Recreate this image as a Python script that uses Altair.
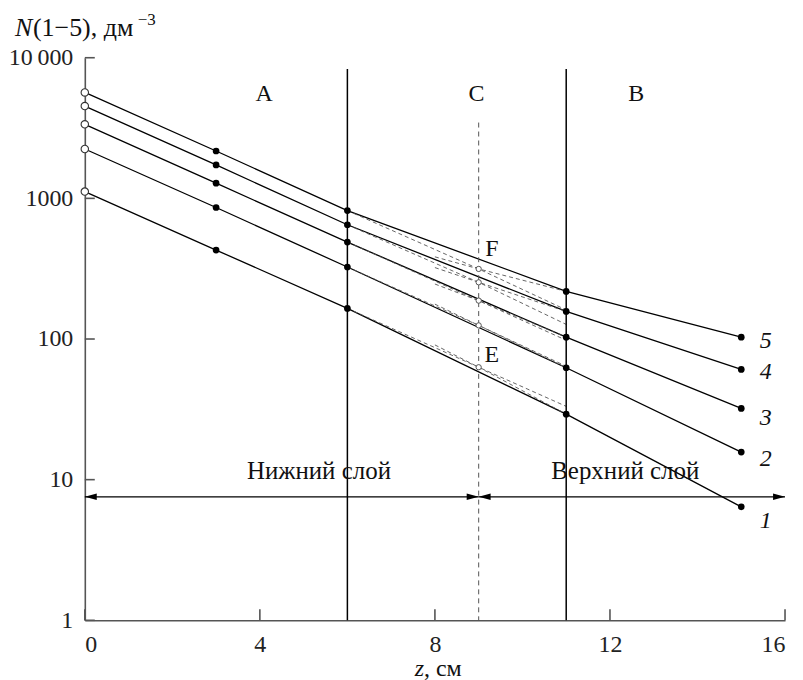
import altair as alt
import pandas as pd

# ---------------- data ----------------
series = ["1", "2", "3", "4", "5"]
z_points = [0, 3, 6, 11, 15]
N1 = [1117, 429, 165, 29.2, 6.41]
N2 = [2244, 861, 325, 62.5, 15.7]
N3 = [3360, 1282, 489, 103, 32.1]
N4 = [4530, 1729, 649, 157, 60.8]
N5 = [5665, 2172, 819, 218, 103]

# open circles at the layer boundary z = 9 (lines 1..5)
z_boundary = 9
N_boundary = [63, 125, 187.5, 253, 315]
# dashed extrapolations: lower-layer trend to z = 11, upper-layer trend back to z = 8
z_lower_end = 11
N_lower_end = [33.2, 64, 98, 127, 161]
z_upper_end = 8
N_upper_end = [90.8, 177, 246, 322, 384]

layer_lines_z = [6, 11]
layer_lines_top = 8300
boundary_top = 3460

region_labels = ["A", "C", "B"]
region_z = [4.1, 8.95, 12.6]
region_N = [5560, 5560, 5560]

point_labels = ["F", "E"]
point_label_z = [9.3, 9.3]
point_label_N = [435, 77]

arrow_N = 7.55
arrow_segments = [(0, 9), (9, 16)]
layer_names = ["Нижний слой", "Верхний слой"]
layer_name_z = [5.35, 12.35]
layer_name_N = [11.5, 11.5]

curve_label_z = 15.56
curve_label_N = [5.08, 14, 27.6, 57.8, 96]

y_ticks = [1, 10, 100, 1000, 10000]
x_ticks = [0, 4, 8, 12, 16]

# ---------------- tables ----------------
all_N = [N1, N2, N3, N4, N5]
rows = []
for s, vals in zip(series, all_N):
    for z, n in zip(z_points, vals):
        rows.append({"z": z, "N": n, "s": s})
solid_df = pd.DataFrame(rows)
open0_df = solid_df[solid_df["z"] == 0]
filled_df = solid_df[solid_df["z"] > 0]

dash_rows = []
for i, s in enumerate(series):
    dash_rows += [
        {"z": 6, "N": all_N[i][2], "g": "lo" + s},
        {"z": z_boundary, "N": N_boundary[i], "g": "lo" + s},
        {"z": z_lower_end, "N": N_lower_end[i], "g": "lo" + s},
        {"z": z_upper_end, "N": N_upper_end[i], "g": "up" + s},
        {"z": z_boundary, "N": N_boundary[i], "g": "up" + s},
        {"z": 11, "N": all_N[i][3], "g": "up" + s},
    ]
dash_df = pd.DataFrame(dash_rows)
bnd_df = pd.DataFrame({"z": [z_boundary] * 5, "N": N_boundary})

FONT = "Liberation Serif"
AX = "#555555"

xs = alt.Scale(domain=[0, 16], nice=False, zero=False)
ys = alt.Scale(type="log", domain=[1, 10000], nice=False)

x_axis = alt.Axis(values=x_ticks, ticks=False, grid=False, title=None,
                  labelFont=FONT, labelFontSize=24, labelColor="#222",
                  labelPadding=12, domainColor=AX, domainWidth=1.6)
y_axis = alt.Axis(values=y_ticks, ticks=False, grid=False, title=None,
                  labelFont=FONT, labelFontSize=24, labelColor="#222",
                  labelPadding=12, domainColor=AX, domainWidth=1.6,
                  labelExpr="datum.value == 10000 ? '10\u2009000' : format(datum.value, 'd')")


def X(field="z:Q"):
    return alt.X(field, scale=xs, axis=x_axis)


def Y(field="N:Q"):
    return alt.Y(field, scale=ys, axis=y_axis)


solid = alt.Chart(solid_df).mark_line(color="black", strokeWidth=1.3).encode(
    x=X(), y=Y(), detail="s:N")

dashed = alt.Chart(dash_df).mark_line(color="#555", strokeWidth=0.9,
                                      strokeDash=[4, 3]).encode(
    x=X(), y=Y(), detail="g:N", order="z:Q")

filled = alt.Chart(filled_df).mark_point(filled=True, color="black", size=45,
                                         opacity=1).encode(x=X(), y=Y())
open0 = alt.Chart(open0_df).mark_point(filled=True, fill="white", stroke="#333",
                                       strokeWidth=1.1, size=55, opacity=1).encode(x=X(), y=Y())
openb = alt.Chart(bnd_df).mark_point(filled=True, fill="white", stroke="#555",
                                     strokeWidth=1, size=28, opacity=1).encode(x=X(), y=Y())

vlines = alt.Chart(pd.DataFrame({"z": layer_lines_z, "N": [layer_lines_top] * 2})).mark_rule(
    color="black", strokeWidth=1.5).encode(x=X(), y=Y(), y2=alt.value(564))
bline = alt.Chart(pd.DataFrame({"z": [z_boundary], "N": [boundary_top]})).mark_rule(
    color="#555", strokeWidth=1, strokeDash=[5, 4]).encode(x=X(), y=Y(), y2=alt.value(564))

ytick_marks = alt.Chart(pd.DataFrame({"N": y_ticks})).mark_rule(color=AX, strokeWidth=1.6).encode(
    y=Y(), x=alt.value(0), x2=alt.value(10))
xtick_marks = alt.Chart(pd.DataFrame({"z": x_ticks})).mark_rule(color=AX, strokeWidth=1.6).encode(
    x=X(), y=alt.value(564), y2=alt.value(553))

# arrows
arr_rows = []
head_rows = []
for a, b in arrow_segments:
    arr_rows.append({"z": a, "z2": b, "N": arrow_N})
    head_rows.append({"z": a, "N": arrow_N, "dir": "L"})
    head_rows.append({"z": b, "N": arrow_N, "dir": "R"})
arr_df = pd.DataFrame(arr_rows)
head_df = pd.DataFrame(head_rows)
arrows = alt.Chart(arr_df).mark_rule(color="black", strokeWidth=1.3).encode(
    x=X(), x2="z2:Q", y=Y())
heads_r = alt.Chart(head_df[head_df["dir"] == "R"]).mark_point(
    shape="M0,0 L-1,-0.27 L-1,0.27 Z", size=576, filled=True, color="black", opacity=1).encode(
    x=X(), y=Y())
heads_l = alt.Chart(head_df[head_df["dir"] == "L"]).mark_point(
    shape="M0,0 L1,-0.27 L1,0.27 Z", size=576, filled=True, color="black", opacity=1).encode(
    x=X(), y=Y())


def text_layer(df, **kw):
    base = dict(font=FONT, fontSize=24, color="#111", align="center", baseline="middle")
    base.update(kw)
    return alt.Chart(df).mark_text(**base).encode(x=X(), y=Y(), text="t:N")


regions = text_layer(pd.DataFrame({"z": region_z, "N": region_N, "t": region_labels}))
ptlabels = text_layer(pd.DataFrame({"z": point_label_z, "N": point_label_N, "t": point_labels}))
laynames = text_layer(pd.DataFrame({"z": layer_name_z, "N": layer_name_N, "t": layer_names}),
                      fontSize=25)
curvelab = text_layer(pd.DataFrame({"z": [curve_label_z] * 5, "N": curve_label_N, "t": series}),
                      fontStyle="italic")

# axis titles (mixed styles, so drawn as text)
yt_n = alt.Chart(pd.DataFrame({"t": ["N"]})).mark_text(
    font=FONT, fontSize=26, fontStyle="italic", align="left", baseline="alphabetic",
    color="#111").encode(x=alt.value(-70), y=alt.value(-22), text="t:N")
yt_rest = alt.Chart(pd.DataFrame({"t": ["(1\u22125), дм"]})).mark_text(
    font=FONT, fontSize=26, align="left", baseline="alphabetic",
    color="#111").encode(x=alt.value(-52), y=alt.value(-22), text="t:N")
yt_sup = alt.Chart(pd.DataFrame({"t": ["\u22123"]})).mark_text(
    font=FONT, fontSize=17, align="left", baseline="alphabetic",
    color="#111").encode(x=alt.value(53), y=alt.value(-33), text="t:N")

xt_z = alt.Chart(pd.DataFrame({"t": ["z"]})).mark_text(
    font=FONT, fontSize=24, fontStyle="italic", align="right", baseline="alphabetic",
    color="#111").encode(x=alt.value(340), y=alt.value(620), text="t:N")
xt_rest = alt.Chart(pd.DataFrame({"t": [", см"]})).mark_text(
    font=FONT, fontSize=24, align="left", baseline="alphabetic",
    color="#111").encode(x=alt.value(340), y=alt.value(620), text="t:N")

chart = alt.layer(
    solid, dashed, vlines, bline, ytick_marks, xtick_marks, arrows, heads_r, heads_l,
    filled, open0, openb, regions, ptlabels, laynames, curvelab,
    yt_n, yt_rest, yt_sup, xt_z, xt_rest,
).properties(
    width=702, height=564,
    background="white",
    autosize=alt.AutoSizeParams(type="none"),
    padding={"left": 77, "top": 49, "right": 10, "bottom": 59},
).configure_view(stroke=None)

chart.save("out.html", embed_options={"renderer": "svg", "actions": False})
